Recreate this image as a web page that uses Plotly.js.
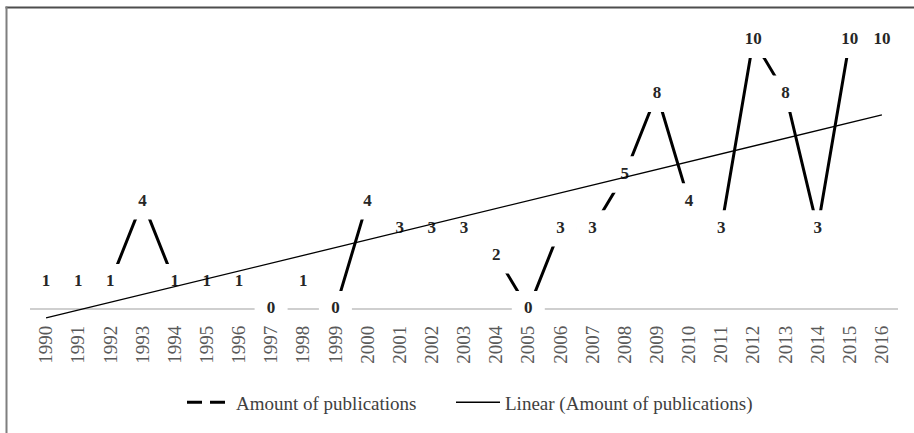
<!DOCTYPE html>
<html>
<head>
<meta charset="utf-8">
<script src="https://cdn.plot.ly/plotly-3.0.1.min.js"></script>
<style>html,body{margin:0;padding:0;background:#fff;}#chart{width:914px;height:433px;}</style>
</head>
<body>
<div id="chart"></div>
<script>
// ---- data ----
var years = ["1990","1991","1992","1993","1994","1995","1996","1997","1998","1999","2000","2001","2002","2003","2004","2005","2006","2007","2008","2009","2010","2011","2012","2013","2014","2015","2016"];
var publications = [1,1,1,4,1,1,1,0,1,0,4,3,3,3,2,0,3,3,5,8,4,3,10,8,3,10,10];
var seriesName = "Amount of publications";
var trendName = "Linear (Amount of publications)";

// least-squares linear trend (as Excel's linear trendline)
var n = publications.length, sx = 0, sy = 0, sxx = 0, sxy = 0;
for (var i = 0; i < n; i++) { sx += i; sy += publications[i]; sxx += i * i; sxy += i * publications[i]; }
var slope = (n * sxy - sx * sy) / (n * sxx - sx * sx);
var icpt = (sy - slope * sx) / n;
var trend = publications.map(function (v, i) { return icpt + slope * i; });

// ---- layout geometry ----
var W = 914, H = 433;
var plotL = 30, plotR = 898, plotT = 13.5, plotB = 339.9;
var yMin = -1, yMax = 11;
function px2fx(p) { return (p - plotL) / (plotR - plotL); }
function px2fy(p) { return (plotB - p) / (plotB - plotT); }

var serif = "Liberation Serif, Times New Roman, Times, DejaVu Serif, serif";

var traces = [
  { // the series line (drawn beneath label boxes)
    x: years, y: publications, type: "scatter", mode: "lines",
    line: { color: "#000000", width: 3 }, showlegend: false, hoverinfo: "skip"
  },
  { // data labels with white boxes
    x: years, y: publications, type: "scatter", mode: "markers+text",
    text: publications.map(String), textposition: "middle center",
    textfont: { family: serif, size: 17, color: "#262626", weight: "bold" },
    marker: { symbol: "line-ns", size: 26, color: "#ffffff", line: { width: 33, color: "#ffffff" } },
    showlegend: false, hoverinfo: "skip", cliponaxis: false
  },
  { // trendline on top
    x: years, y: trend, type: "scatter", mode: "lines", name: trendName,
    line: { color: "#000000", width: 1.3 }, legendrank: 2
  },
  { // legend sample for the series (dashed)
    x: [null], y: [null], type: "scatter", mode: "lines", name: seriesName,
    line: { color: "#000000", width: 3, dash: "15px,8px" }, legendrank: 1, legendwidth: 210
  }
];

var layout = {
  width: W, height: H,
  font: { family: serif },
  margin: { l: plotL, r: W - plotR, t: plotT, b: H - plotB, pad: 0 },
  paper_bgcolor: "#ffffff", plot_bgcolor: "#ffffff",
  showlegend: true,
  legend: {
    orientation: "h", x: px2fx(182), xanchor: "left", y: px2fy(407), yanchor: "middle",
    font: { family: serif, size: 19, color: "#404040" },
    bgcolor: "rgba(0,0,0,0)", traceorder: "normal", itemwidth: 44
  },
  xaxis: {
    type: "category", range: [-0.5, 26.5], anchor: "free",
    position: (0 - yMin) / (yMax - yMin),
    showline: false, showgrid: false, zeroline: false, ticks: "", tickangle: -90,
    tickfont: { family: serif, size: 19, color: "#595959" },
    ticklabelstandoff: 12, layer: "above traces", automargin: false, fixedrange: true
  },
  yaxis: {
    range: [yMin, yMax], visible: false, showgrid: false, zeroline: false, fixedrange: true
  },
  shapes: [
    // category axis line at value 0 (beneath the label boxes)
    { type: "line", xref: "paper", yref: "y", x0: 0, x1: 1, y0: 0, y1: 0, layer: "below", line: { color: "#bfbfbf", width: 1.5 } },
    // chart frame
    { type: "line", xref: "paper", yref: "paper", x0: px2fx(5.5), x1: px2fx(930), y0: px2fy(8), y1: px2fy(8), line: { color: "#4d4d4d", width: 2 } },
    { type: "line", xref: "paper", yref: "paper", x0: px2fx(6.5), x1: px2fx(6.5), y0: px2fy(7), y1: px2fy(450), line: { color: "#7f7f7f", width: 2 } }
  ]
};

Plotly.newPlot("chart", traces, layout, { displayModeBar: false, staticPlot: true });
</script>
</body>
</html>
